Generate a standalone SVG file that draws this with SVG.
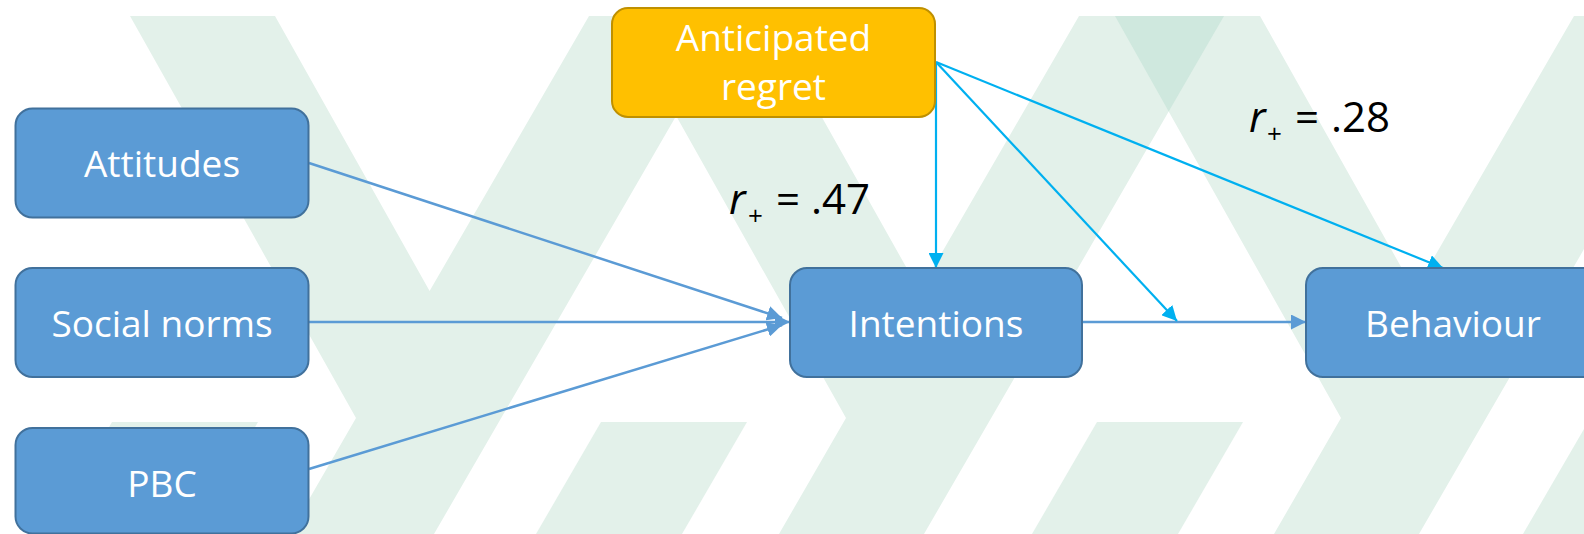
<svg xmlns="http://www.w3.org/2000/svg" width="1584" height="534" viewBox="0 0 1584 534">
<defs>
<style>
.bg{fill:#E3F1EA}
.bgd{fill:#CFE8DE}
.node{fill:#5B9BD5;stroke:#41719C;stroke-width:2}
.gold{fill:#FFC000;stroke:#BF9000;stroke-width:2}
.nt{font-family:"Open Sans","Liberation Sans",sans-serif;font-size:37px;fill:#FFFFFF;text-anchor:middle}
.lbl{font-family:"Open Sans","Liberation Sans",sans-serif;font-size:42px;fill:#000000}
.sub{font-size:26px}
.cb{fill:none;stroke:#5B9BD5;stroke-width:2.5}
.cc{fill:none;stroke:#00B0F0;stroke-width:2.2}
</style>
<marker id="ab" markerUnits="userSpaceOnUse" markerWidth="15" markerHeight="15" refX="15" refY="7.5" orient="auto">
<path d="M0,0 L15,7.5 L0,15 z" fill="#5B9BD5"/>
</marker>
<marker id="ac" markerUnits="userSpaceOnUse" markerWidth="15" markerHeight="15" refX="15" refY="7.5" orient="auto">
<path d="M0,0 L15,7.5 L0,15 z" fill="#00B0F0"/>
</marker>
</defs>
<rect width="1584" height="534" fill="#FFFFFF"/>
<g id="background">
<polygon class="bg" points="130,16 275,16 429.6,291 589,16 734,16 434,534 289,534 356,418"/>
<polygon class="bg" points="620,16 765,16 919.6,291 1079,16 1224,16 924,534 779,534 846,418"/>
<polygon class="bg" points="1115,16 1260,16 1414.6,291 1574,16 1719,16 1419,534 1274,534 1341,418"/>
<polygon class="bgd" points="620,16 734,16 676,116"/>
<polygon class="bgd" points="1115,16 1224,16 1168.7,111.5"/>
<polygon class="bg" points="112,422 258,422 193,534 47,534"/>
<polygon class="bg" points="601,422 747,422 682,534 536,534"/>
<polygon class="bg" points="1097,422 1243,422 1178,534 1032,534"/>
<polygon class="bg" points="1588,422 1734,422 1669,534 1523,534"/>
</g>
<g id="connectors">
<line class="cb" x1="309" y1="163" x2="782" y2="318" marker-end="url(#ab)"/>
<line class="cb" x1="309" y1="322" x2="790" y2="322" marker-end="url(#ab)"/>
<line class="cb" x1="309" y1="469" x2="782" y2="325" marker-end="url(#ab)"/>
<line class="cb" x1="1083" y1="322" x2="1306" y2="322" marker-end="url(#ab)"/>
<line class="cc" x1="936" y1="62" x2="936" y2="268" marker-end="url(#ac)"/>
<line class="cc" x1="936" y1="62" x2="1177" y2="321" marker-end="url(#ac)"/>
<line class="cc" x1="936" y1="62" x2="1443" y2="268" marker-end="url(#ac)"/>
</g>
<g id="node-attitudes">
<rect class="node" x="15.5" y="108.5" width="293" height="109" rx="17"/>
<text class="nt" x="162" y="177">Attitudes</text>
</g>
<g id="node-social-norms">
<rect class="node" x="15.5" y="268" width="293" height="109" rx="17"/>
<text class="nt" x="162" y="337">Social norms</text>
</g>
<g id="node-pbc">
<rect class="node" x="15.5" y="428" width="293" height="105.5" rx="17"/>
<text class="nt" x="162" y="497">PBC</text>
</g>
<g id="node-anticipated-regret">
<rect class="gold" x="612" y="8" width="323" height="109" rx="16"/>
<text class="nt" x="773.5" y="51">Anticipated</text>
<text class="nt" x="773.5" y="99.5">regret</text>
</g>
<g id="node-intentions">
<rect class="node" x="790" y="268" width="292" height="109" rx="17"/>
<text class="nt" x="936" y="337">Intentions</text>
</g>
<g id="node-behaviour">
<rect class="node" x="1306" y="268" width="294" height="109" rx="17"/>
<text class="nt" x="1453" y="337">Behaviour</text>
</g>
<g id="label-047">
<text class="lbl" y="214"><tspan x="729" font-style="italic">r</tspan><tspan class="sub" x="748" y="224.5">+</tspan><tspan x="776" y="214">=</tspan><tspan x="811">.47</tspan></text>
</g>
<g id="label-028">
<text class="lbl" y="132"><tspan x="1249" font-style="italic">r</tspan><tspan class="sub" x="1267" y="142.5">+</tspan><tspan x="1295" y="132">=</tspan><tspan x="1331">.28</tspan></text>
</g>
</svg>
